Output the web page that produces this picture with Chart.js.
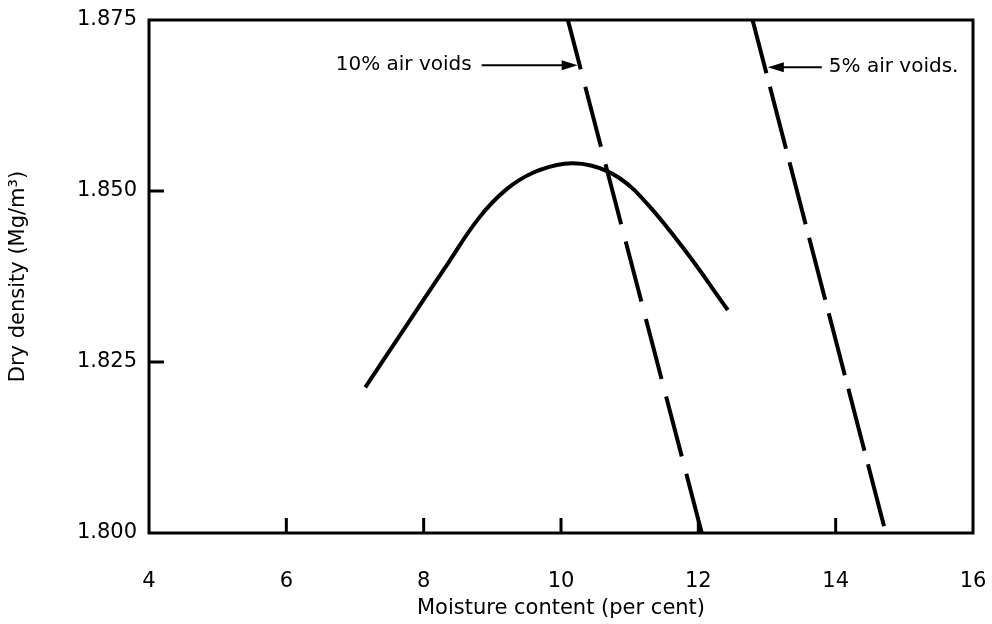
<!DOCTYPE html>
<html>
<head>
<meta charset="utf-8">
<script src="https://cdn.jsdelivr.net/npm/chart.js@4.4.0/dist/chart.umd.min.js"></script>
<style>
  html, body { margin: 0; padding: 0; background: #fff; }
  #wrap { width: 992px; height: 624px; }
</style>
</head>
<body>
<div id="wrap"><canvas id="compactionChart"></canvas></div>
<script>
// --- данные ---
const xTicks = [4, 6, 8, 10, 12, 14, 16];
const yTicks = [1.800, 1.825, 1.850, 1.875];

// кривая уплотнения
const moisture = [7.15, 7.7, 8.3, 8.8, 9.2, 9.6, 10.05, 10.45, 10.85, 11.25, 11.8, 12.43];
const dryDensity = [1.8213, 1.8296, 1.8386, 1.8460, 1.8502, 1.8527, 1.8540, 1.8537, 1.8519, 1.8482, 1.8414, 1.8326];

// линии воздушных пустот (верх и низ области)
const voids10x = [10.10, 12.05];
const voids10y = [1.875, 1.800];
const voids5x = [12.79, 14.73];
const voids5y = [1.875, 1.800];

const FONT = '"DejaVu Sans", Arial, sans-serif';

const toPoints = (xs, ys) => xs.map((x, i) => ({ x: x, y: ys[i] }));

// x линии пустот на заданном уровне y
function voidsX(xs, ys, y) {
    return xs[0] + (xs[1] - xs[0]) * (ys[0] - y) / (ys[0] - ys[1]);
}

// рамка, внутренние засечки и подписи со стрелками
const framePlugin = {
    id: 'frame',
    afterDraw(chart) {
        const { ctx, chartArea: a, scales } = chart;
        ctx.save();
        ctx.strokeStyle = '#000';
        ctx.lineWidth = 3;
        ctx.strokeRect(a.left, a.top, a.right - a.left, a.bottom - a.top);

        // засечки внутрь
        xTicks.slice(1, -1).forEach(v => {
            const px = scales.x.getPixelForValue(v);
            ctx.beginPath(); ctx.moveTo(px, a.bottom); ctx.lineTo(px, a.bottom - 15); ctx.stroke();
        });
        yTicks.slice(1, -1).forEach(v => {
            const py = scales.y.getPixelForValue(v);
            ctx.beginPath(); ctx.moveTo(a.left, py); ctx.lineTo(a.left + 15, py); ctx.stroke();
        });

        // подписи
        ctx.fillStyle = '#000';
        ctx.font = '20px ' + FONT;
        ctx.textBaseline = 'middle';

        const y10 = 1.8684;
        const py10 = scales.y.getPixelForValue(y10);
        const x10 = scales.x.getPixelForValue(voidsX(voids10x, voids10y, y10));
        ctx.textAlign = 'right';
        ctx.fillText('10% air voids', x10 - 108, py10);
        arrow(ctx, x10 - 98, py10, x10 - 2, py10);

        const y5 = 1.8681;
        const py5 = scales.y.getPixelForValue(y5);
        const x5 = scales.x.getPixelForValue(voidsX(voids5x, voids5y, y5));
        ctx.textAlign = 'left';
        ctx.fillText('5% air voids.', x5 + 64, py5);
        arrow(ctx, x5 + 57, py5, x5 + 3, py5);
        ctx.restore();
    }
};

function arrow(ctx, x1, y1, x2, y2) {
    const dir = Math.sign(x2 - x1);
    ctx.lineWidth = 2;
    ctx.beginPath(); ctx.moveTo(x1, y1); ctx.lineTo(x2 - dir * 10, y2); ctx.stroke();
    ctx.beginPath();
    ctx.moveTo(x2, y2);
    ctx.lineTo(x2 - dir * 16, y2 - 5);
    ctx.lineTo(x2 - dir * 16, y2 + 5);
    ctx.closePath();
    ctx.fill();
}

const ctx = document.getElementById('compactionChart').getContext('2d');
new Chart(ctx, {
    type: 'scatter',
    data: {
        datasets: [
            {
                label: 'Compaction curve',
                data: toPoints(moisture, dryDensity),
                showLine: true, borderColor: '#000', borderWidth: 4,
                pointRadius: 0, tension: 0.4
            },
            {
                label: '10% air voids',
                data: toPoints(voids10x, voids10y),
                showLine: true, borderColor: '#000', borderWidth: 4,
                borderDash: [62, 18], borderDashOffset: 11, pointRadius: 0
            },
            {
                label: '5% air voids',
                data: toPoints(voids5x, voids5y),
                showLine: true, borderColor: '#000', borderWidth: 4,
                borderDash: [64, 14], borderDashOffset: 9, pointRadius: 0
            }
        ]
    },
    options: {
        responsive: true, maintainAspectRatio: false, animation: false,
        layout: { padding: { top: 20, right: 19, left: 0, bottom: 0 } },
        scales: {
            x: {
                type: 'linear', min: 4, max: 16,
                afterBuildTicks: s => { s.ticks = xTicks.map(v => ({ value: v })); },
                afterFit: s => { s.height = 91; s.paddingLeft = 0; s.paddingRight = 0; },
                grid: { display: false }, border: { display: false },
                ticks: { color: '#000', padding: 28, font: { family: FONT, size: 21 } },
                title: {
                    display: true, text: 'Moisture content (per cent)', color: '#000',
                    font: { family: FONT, size: 21 }, padding: { top: 0, bottom: 3 }
                }
            },
            y: {
                type: 'linear', min: 1.8, max: 1.875,
                afterBuildTicks: s => { s.ticks = yTicks.map(v => ({ value: v })); },
                afterFit: s => { s.width = 149; s.paddingTop = 0; s.paddingBottom = 0; },
                grid: { display: false }, border: { display: false },
                ticks: {
                    color: '#000', padding: 4, font: { family: FONT, size: 21 },
                    callback: v => v.toFixed(3)
                },
                title: {
                    display: true, text: 'Dry density (Mg/m³)', color: '#000',
                    font: { family: FONT, size: 21 }, padding: { top: 6, bottom: 6 }
                }
            }
        },
        plugins: { legend: { display: false }, tooltip: { enabled: false } }
    },
    plugins: [framePlugin]
});
</script>
</body>
</html>
